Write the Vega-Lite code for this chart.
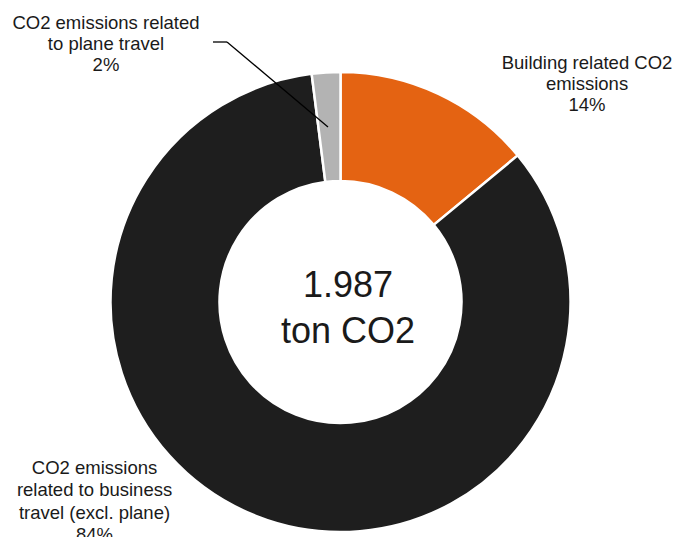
{
  "$schema": "https://vega.github.io/schema/vega-lite/v6.json",
  "width": 681,
  "height": 470,
  "padding": {"left": 0, "top": 67, "right": 3, "bottom": 0},
  "autosize": {"type": "none"},
  "background": "white",
  "config": {"view": {"stroke": null}, "text": {"font": "Liberation Sans"}},
  "data": {
    "values": [
      {"category": "Building related CO2 emissions", "value": 14, "label": "Building related CO2\nemissions\n14%"},
      {"category": "CO2 emissions related to business travel (excl. plane)", "value": 84, "label": "CO2 emissions\nrelated to business\ntravel (excl. plane)\n84%"},
      {"category": "CO2 emissions related to plane travel", "value": 2, "label": "CO2 emissions related\nto plane travel\n2%"}
    ]
  },
  "layer": [
    {
      "mark": {"type": "arc", "outerRadius": 230, "innerRadius": 121, "stroke": "white", "strokeWidth": 2.5},
      "encoding": {
        "theta": {"field": "value", "type": "quantitative", "stack": true},
        "color": {
          "field": "category",
          "type": "nominal",
          "scale": {
            "domain": ["Building related CO2 emissions", "CO2 emissions related to business travel (excl. plane)", "CO2 emissions related to plane travel"],
            "range": ["#E46312", "#1E1E1E", "#B3B3B3"]
          },
          "legend": null
        }
      }
    },
    {
      "mark": {"type": "text", "radius": 343.5, "thetaOffset": 0.3606, "align": "center", "baseline": "middle", "lineBreak": "\n", "fontSize": 18.5, "lineHeight": 21, "color": "#1a1a1a"},
      "encoding": {
        "theta": {"field": "value", "type": "quantitative", "stack": true},
        "detail": {"field": "category", "type": "nominal"},
        "text": {"condition": {"test": "datum.category === 'Building related CO2 emissions'", "field": "label", "type": "nominal"}, "value": ""}
      }
    },
    {
      "mark": {"type": "text", "radius": 296.6, "thetaOffset": 0.6009, "align": "center", "baseline": "middle", "lineBreak": "\n", "fontSize": 18.5, "lineHeight": 22.4, "color": "#1a1a1a"},
      "encoding": {
        "theta": {"field": "value", "type": "quantitative", "stack": true},
        "detail": {"field": "category", "type": "nominal"},
        "text": {"condition": {"test": "datum.category === 'CO2 emissions related to business travel (excl. plane)'", "field": "label", "type": "nominal"}, "value": ""}
      }
    },
    {
      "mark": {"type": "text", "radius": 364.7, "thetaOffset": -0.6357, "align": "center", "baseline": "middle", "lineBreak": "\n", "fontSize": 18.5, "lineHeight": 21, "color": "#1a1a1a"},
      "encoding": {
        "theta": {"field": "value", "type": "quantitative", "stack": true},
        "detail": {"field": "category", "type": "nominal"},
        "text": {"condition": {"test": "datum.category === 'CO2 emissions related to plane travel'", "field": "label", "type": "nominal"}, "value": ""}
      }
    },
    {
      "data": {"values": [{}]},
      "mark": {"type": "rule", "color": "#000000", "strokeWidth": 1.3},
      "encoding": {
        "x": {"datum": 213, "type": "quantitative", "scale": {"domain": [0, 681], "range": [0, 681], "nice": false, "zero": false}, "axis": null},
        "y": {"datum": -25, "type": "quantitative", "scale": {"domain": [0, 470], "range": [0, 470], "nice": false, "zero": false}, "axis": null},
        "x2": {"datum": 227},
        "y2": {"datum": -25}
      }
    },
    {
      "data": {"values": [{}]},
      "mark": {"type": "rule", "color": "#000000", "strokeWidth": 1.3},
      "encoding": {
        "x": {"datum": 227, "type": "quantitative"},
        "y": {"datum": -25, "type": "quantitative"},
        "x2": {"datum": 328},
        "y2": {"datum": 60}
      }
    },
    {
      "data": {"values": [{}]},
      "mark": {"type": "text", "fontSize": 36, "lineBreak": "\n", "align": "center", "baseline": "alphabetic", "dx": 7.5, "dy": -4.7, "lineHeight": 46, "color": "#1a1a1a"},
      "encoding": {
        "text": {"value": "1.987\nton CO2"}
      }
    }
  ]
}
